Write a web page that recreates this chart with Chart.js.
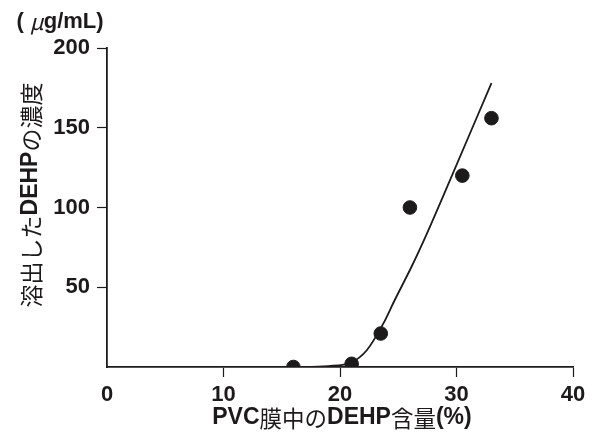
<!DOCTYPE html>
<html>
<head>
<meta charset="utf-8">
<script src="https://cdn.jsdelivr.net/npm/chart.js@4/dist/chart.umd.min.js"></script>
<style>
  html, body { margin: 0; padding: 0; background: #fff; }
  #wrap { width: 595px; height: 436px; }
</style>
</head>
<body>
<div id="wrap"><canvas id="c" width="595" height="436"></canvas></div>
<script>
// measured points
const pointX = [16, 21, 23.5, 26, 30.5, 33];
const pointY = [0, 2, 21, 100, 120, 156];
// fitted curve
const curveX = [16, 19, 21, 22.3, 23.7, 24.7, 26.15, 27.45, 28.7, 33];
const curveY = [0, 0.6, 3, 10.5, 27, 42, 63, 83.5, 104.5, 178];
const xTicks = [0, 10, 20, 30, 40];
const yTicks = [50, 100, 150, 200];

const ink = '#1c1a1b';
const latin = '"Liberation Sans", Arial, sans-serif';
const jp = '"Noto Sans CJK JP", sans-serif';

// draws a line of text made of pieces in different fonts
function drawRuns(ctx, runs, cx, cy, rotate) {
  ctx.save();
  ctx.translate(cx, cy);
  if (rotate) ctx.rotate(-Math.PI / 2);
  ctx.fillStyle = ink;
  ctx.textBaseline = 'middle';
  ctx.textAlign = 'left';
  let w = 0;
  runs.forEach(r => { ctx.font = r.font; w += ctx.measureText(r.t).width; });
  let x = -w / 2;
  runs.forEach(r => {
    ctx.font = r.font;
    ctx.fillText(r.t, x, r.dy || 0);
    x += ctx.measureText(r.t).width;
  });
  ctx.restore();
}

const titles = {
  id: 'titles',
  afterDraw(chart) {
    const ctx = chart.ctx;
    drawRuns(ctx, [
      { t: '溶出した', font: '23px ' + jp },
      { t: 'DEHP', font: 'bold 23px ' + latin },
      { t: 'の濃度', font: '23px ' + jp }
    ], 31, 195, true);
    drawRuns(ctx, [
      { t: 'PVC', font: 'bold 23px ' + latin },
      { t: '膜中の', font: '22.5px ' + jp },
      { t: 'DEHP', font: 'bold 23px ' + latin },
      { t: '含量', font: '22.5px ' + jp },
      { t: '(%)', font: 'bold 23px ' + latin }
    ], 342, 418, false);
    drawRuns(ctx, [
      { t: '( ', font: 'bold 22px ' + latin },
      { t: 'μ', font: 'italic 22px ' + jp },
      { t: 'g/mL)', font: 'bold 22px ' + latin }
    ], 60, 22, false);
  }
};

const tickColor = c => (c.tick && c.tick.value === 0) ? 'rgba(0,0,0,0)' : ink;

new Chart(document.getElementById('c'), {
  type: 'scatter',
  data: {
    datasets: [
      {
        type: 'line',
        data: curveX.map((x, i) => ({ x, y: curveY[i] })),
        borderColor: ink,
        borderWidth: 1.8,
        pointRadius: 0,
        cubicInterpolationMode: 'monotone',
        fill: false
      },
      {
        data: pointX.map((x, i) => ({ x, y: pointY[i] })),
        backgroundColor: ink,
        borderColor: ink,
        pointRadius: 6.8,
        pointHoverRadius: 6.8
      }
    ]
  },
  options: {
    responsive: false,
    animation: false,
    events: [],
    layout: { padding: { left: 40, right: 22, top: 48, bottom: 29 } },
    plugins: { legend: { display: false }, tooltip: { enabled: false } },
    scales: {
      x: {
        type: 'linear', min: 0, max: 40,
        afterFit: s => { s.height = 40; },
        afterBuildTicks: s => { s.ticks = xTicks.map(v => ({ value: v })); },
        grid: { drawOnChartArea: false, drawTicks: true, tickLength: 10, tickColor: tickColor, tickWidth: 1.2 },
        border: { display: true, color: ink, width: 1.8 },
        ticks: { color: ink, padding: 5, maxRotation: 0, autoSkip: false, font: { family: latin, size: 22, weight: 'bold' } }
      },
      y: {
        type: 'linear', min: 0, max: 200,
        afterFit: s => { s.width = 67; },
        afterBuildTicks: s => { s.ticks = [0].concat(yTicks).map(v => ({ value: v })); },
        grid: { drawOnChartArea: false, drawTicks: true, tickLength: 10, tickColor: tickColor, tickWidth: 1.2 },
        border: { display: true, color: ink, width: 1.8 },
        ticks: {
          color: ink, padding: 7, autoSkip: false,
          callback: v => v === 0 ? '' : v,
          font: { family: latin, size: 22, weight: 'bold' }
        }
      }
    }
  },
  plugins: [titles]
});
</script>
</body>
</html>
